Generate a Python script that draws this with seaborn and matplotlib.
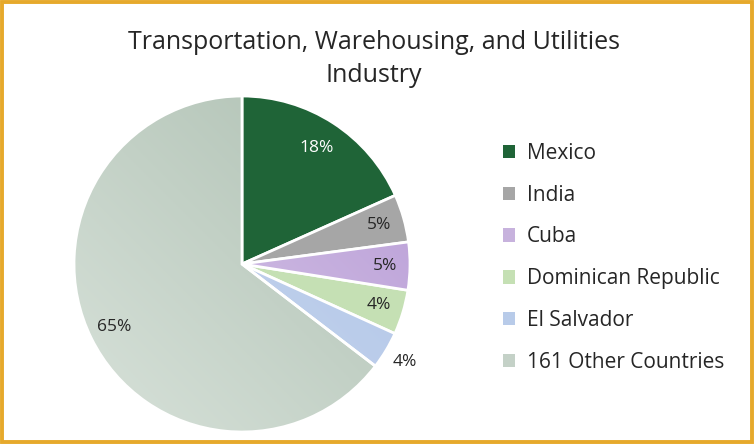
import numpy as np
import matplotlib
matplotlib.use("Agg")
import matplotlib.pyplot as plt
import seaborn as sns
from matplotlib.patches import Rectangle

sns.set_theme(style="white")
plt.rcParams['font.family'] = ['Open Sans', 'DejaVu Sans']

categories = ["Mexico", "India", "Cuba", "Dominican Republic", "El Salvador", "161 Other Countries"]
shares = [18.3, 4.6, 4.6, 4.3, 3.6, 64.6]
pct_labels = ["18%", "5%", "5%", "4%", "4%", "65%"]
colors = ["#1f6437", "#a6a6a6", "#c7b2dd", "#c5e0b4", "#b8cbe9", "#c4d1c7"]
label_colors = ["white", "#262626", "#262626", "#262626", "#262626", "#262626"]
title = "Transportation, Warehousing, and Utilities\nIndustry"

W, H = 754, 444
fig = plt.figure(figsize=(W / 100, H / 100), dpi=100)
fig.patch.set_facecolor("white")

cx, cy, R = 242, 264, 168
ax = fig.add_axes([(cx - R) / W, (H - cy - R) / H, 2 * R / W, 2 * R / H])
wedges, _ = ax.pie(shares, colors=colors, startangle=90, counterclock=False,
                   radius=1, wedgeprops=dict(edgecolor="white", linewidth=2))
ax.set_xlim(-1, 1)
ax.set_ylim(-1, 1)
ax.set_aspect("equal")
ax.axis("off")

# gradient shading on some slices
def grad_fill(w, c_light, c_dark):
    n = 200
    yy, xx = np.mgrid[0:n, 0:n]
    t = (xx + yy) / (2 * n)  # 0 bottom-left -> 1 top-right (origin lower)
    a = np.array(matplotlib.colors.to_rgb(c_light))
    b = np.array(matplotlib.colors.to_rgb(c_dark))
    img = a[None, None, :] * (1 - t[..., None]) + b[None, None, :] * t[..., None]
    im = ax.imshow(img, extent=(-1, 1, -1, 1), origin="lower", zorder=w.get_zorder())
    im.set_clip_path(w)
    w.set_facecolor("none")
    w.set_zorder(w.get_zorder() + 0.1)

grad_fill(wedges[5], "#d8e2da", "#adbfb1")
grad_fill(wedges[2], "#ddd0ea", "#b79ad6")
grad_fill(wedges[4], "#cbd9f0", "#aec3e6")

for w, lab, lc, i in zip(wedges, pct_labels, label_colors, range(6)):
    th = np.deg2rad((w.theta1 + w.theta2) / 2)
    d = 1.13 if i == 4 else (0.82 if i == 0 else 0.85)
    ax.text(d * np.cos(th), d * np.sin(th), lab, ha="center", va="center",
            fontsize=12.5, color=lc)

fig.text(374 / W, 1 - 59 / H, title, ha="center", va="center", fontsize=18,
         color="#262626", linespacing=1.4)

leg = fig.legend(wedges, categories, loc="upper left", bbox_to_anchor=(484 / W, 1 - 124 / H),
                 frameon=False, fontsize=15, handlelength=0.6, handleheight=0.6,
                 handletextpad=0.55, labelspacing=1.0, labelcolor="#262626")
for h, c in zip(leg.legend_handles, colors):
    h.set_facecolor(c)
    h.set_edgecolor("none")

fig.patches.append(Rectangle((0.0025, 0.004), 0.995, 0.992, transform=fig.transFigure,
                             fill=False, edgecolor="#e6a92b", linewidth=2.8))

fig.savefig("out.png", dpi=100)
